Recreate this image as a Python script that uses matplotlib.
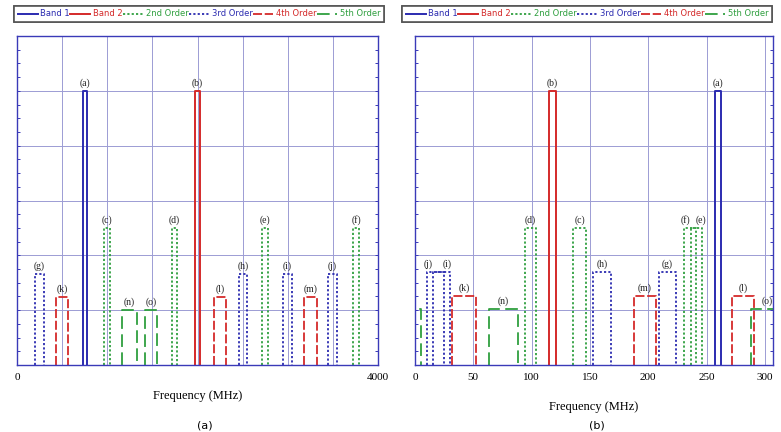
import matplotlib
matplotlib.use('Agg')
import matplotlib.pyplot as plt
from matplotlib.lines import Line2D

# colours / line styles per series
BLUE = '#2b2bb0'
RED = '#d42a2a'
GREEN = '#2f9f3f'
GRID = '#9c9cd4'
SPINE = '#3a3ab8'

styles = {
    'Band 1': dict(color=BLUE, ls='-', lw=1.4),
    'Band 2': dict(color=RED, ls='-', lw=1.4),
    '2nd Order': dict(color=GREEN, ls=(0, (1.2, 1.2)), lw=1.3),
    '3rd Order': dict(color=BLUE, ls=(0, (1.2, 1.2)), lw=1.3),
    '4th Order': dict(color=RED, ls=(0, (5, 1.5)), lw=1.3),
    '5th Order': dict(color=GREEN, ls=(0, (7, 3)), lw=1.3),
}

# ---- panel (a): 0 - 4000 MHz ----
a_labels = ['(a)', '(b)', '(c)', '(d)', '(e)', '(f)', '(g)', '(h)', '(i)', '(j)',
            '(k)', '(l)', '(m)', '(n)', '(o)']
a_lo = [735, 1975, 964, 1717, 2714, 3723, 200, 2460, 2948, 3447, 432, 2183, 3180, 1163, 1418]
a_hi = [772, 2025, 1030, 1773, 2781, 3790, 299, 2548, 3047, 3545, 565, 2316, 3324, 1329, 1551]
a_h = [5.0, 5.0, 2.5, 2.5, 2.5, 2.5, 1.66, 1.66, 1.66, 1.66, 1.24, 1.24, 1.24, 1.0, 1.0]
a_kind = ['Band 1', 'Band 2', '2nd Order', '2nd Order', '2nd Order', '2nd Order',
          '3rd Order', '3rd Order', '3rd Order', '3rd Order',
          '4th Order', '4th Order', '4th Order', '5th Order', '5th Order']
a_dx = [0] * 15

# ---- panel (b): 0 - 300 MHz ----
b_labels = ['(a)', '(b)', '(c)', '(d)', '(e)', '(f)', '(g)', '(h)', '(i)', '(j)',
            '(k)', '(l)', '(m)', '(n)', '(o)', '']
b_lo = [257, 114.7, 135.6, 94, 237, 231, 209, 152.4, 15.4, 10.3, 31.7, 272, 187.5, 63.4, 288.5, -10]
b_hi = [262, 120.7, 146.5, 103.6, 245.7, 241, 224, 167.8, 30, 24.8, 52.2, 291, 207, 88, 315, 5]
b_h = [5.0, 5.0, 2.5, 2.5, 2.5, 2.5, 1.7, 1.7, 1.7, 1.7, 1.26, 1.26, 1.26, 1.02, 1.02, 1.02]
b_kind = ['Band 1', 'Band 2', '2nd Order', '2nd Order', '2nd Order', '2nd Order',
          '3rd Order', '3rd Order', '3rd Order', '3rd Order',
          '4th Order', '4th Order', '4th Order', '5th Order', '5th Order', '5th Order']
b_dx = [0, 0, 0, 0, 4, -4, 0, 0, 5, -6, 0, 0, 0, 0, 0, 0]

a_ticks = [0, 4000]
b_ticks = [0, 50, 100, 150, 200, 250, 300]


def draw_panel(ax, labels, lo, hi, h, kind, dx, xlim, grid_step, ticks):
    for lab, f0, f1, hh, k, d in zip(labels, lo, hi, h, kind, dx):
        ax.plot([f0, f0, f1, f1], [0, hh, hh, 0], **styles[k])
        if lab:
            ax.annotate(lab, ((f0 + f1) / 2 + d, hh), xytext=(0, 2),
                        textcoords='offset points', ha='center', va='bottom',
                        fontsize=7, family='Liberation Serif', color='#222222')
    ax.set_xlim(*xlim)
    ax.set_ylim(0, 6)
    gx = list(range(0, int(xlim[1]) + 1, grid_step))
    for g in gx:
        ax.axvline(g, color=GRID, lw=0.7, zorder=0)
    for g in range(1, 6):
        ax.axhline(g, color=GRID, lw=0.7, zorder=0)
    ax.set_xticks(ticks)
    ax.set_xticklabels([str(t) for t in ticks], family='Liberation Serif', fontsize=8)
    ax.tick_params(axis='x', length=0, pad=6)
    ax.set_yticks([])
    ax.set_yticks([i * 0.25 for i in range(25)], minor=True)
    ax.tick_params(axis='y', which='minor', length=2.5, direction='in',
                   left=True, right=True, color=SPINE, width=0.7)
    for sp in ax.spines.values():
        sp.set_color(SPINE)
        sp.set_linewidth(1.0)
    ax.set_xlabel('Frequency (MHz)', family='Liberation Serif', fontsize=9)


fig = plt.figure(figsize=(7.81, 4.32), dpi=100)
W, H = 781, 432

ax1 = fig.add_axes([17 / W, 1 - 365 / H, 361 / W, 329 / H])
draw_panel(ax1, a_labels, a_lo, a_hi, a_h, a_kind, a_dx, (0, 4000), 500, a_ticks)
ax1.xaxis.set_label_coords(0.5, -0.076)

ax2 = fig.add_axes([415 / W, 1 - 365 / H, 358 / W, 329 / H])
draw_panel(ax2, b_labels, b_lo, b_hi, b_h, b_kind, b_dx, (0, 307), 50, b_ticks)
ax2.xaxis.set_label_coords(0.5, -0.11)

# legends on top of each panel
handles = [Line2D([], [], **styles[k]) for k in styles]
for x0 in [10, 398]:
    leg = fig.legend(handles, list(styles.keys()), loc='lower left', ncol=6, mode='expand',
                     bbox_to_anchor=(x0 / W, 1 - 26 / H, 378 / W, 21 / H),
                     fontsize=6, handlelength=2.4, handletextpad=0.3, columnspacing=0.8,
                     borderpad=0.4, fancybox=False, framealpha=1)
    leg.get_frame().set_edgecolor('#555555')
    leg.get_frame().set_linewidth(1.2)
    for txt, k in zip(leg.get_texts(), styles):
        txt.set_color(styles[k]['color'])
    fig.add_artist(leg)

fig.text(205 / W, 1 - 425 / H, '(a)', ha='center', va='center', fontsize=8)
fig.text(597 / W, 1 - 425 / H, '(b)', ha='center', va='center', fontsize=8)

fig.savefig('out.png', dpi=100)
